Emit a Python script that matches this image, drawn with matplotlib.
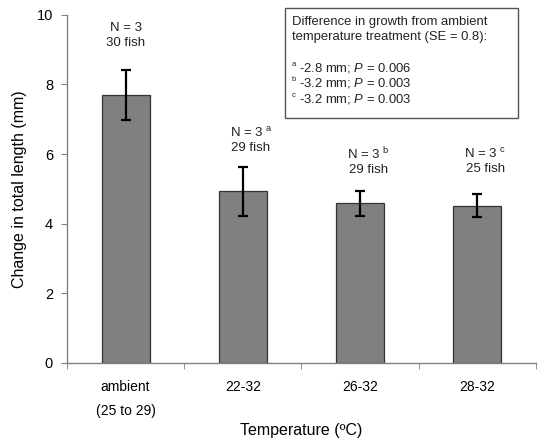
import matplotlib
matplotlib.use("Agg")
import matplotlib.pyplot as plt
from matplotlib.patches import Rectangle

plt.rcParams['font.family'] = ['Liberation Sans', 'DejaVu Sans']
plt.rcParams['mathtext.fontset'] = 'custom'
plt.rcParams['mathtext.rm'] = 'Liberation Sans'
plt.rcParams['mathtext.it'] = 'Liberation Sans:italic'

categories = ["ambient\n(25 to 29)", "22-32", "26-32", "28-32"]
means = [7.70, 4.93, 4.58, 4.52]
errors = [0.72, 0.71, 0.36, 0.32]
n_labels = ["N = 3", "N = 3 $^{\\mathregular{a}}$", "N = 3 $^{\\mathregular{b}}$", "N = 3 $^{\\mathregular{c}}$"]
fish_labels = ["30 fish", "29 fish", "29 fish", "25 fish"]
label_y = [9.4, 6.4, 5.8, 5.8]

box_lines = ["Difference in growth from ambient",
             "temperature treatment (SE = 0.8):"]
box_items = [("a", "-2.8 mm; $\\it{P}$ = 0.006"),
             ("b", "-3.2 mm; $\\it{P}$ = 0.003"),
             ("c", "-3.2 mm; $\\it{P}$ = 0.003")]

fig = plt.figure(figsize=(5.39, 4.45), dpi=100)
ax = fig.add_axes([0.1243, 0.1843, 0.870, 0.7827])

x = list(range(len(categories)))
ax.bar(x, means, width=0.41, color='#808080', edgecolor='#333333', linewidth=0.9, zorder=2)
ax.errorbar(x, means, yerr=errors, fmt='none', ecolor='black', elinewidth=1.6,
            capsize=3.5, capthick=1.6, zorder=3)

for xi, nl, fl, ly in zip(x, n_labels, fish_labels, label_y):
    ax.text(xi + (0.07 if '$' in nl else 0), ly, nl + "\n" + fl, ha='center', va='center',
            fontsize=9.5, color='#222222', linespacing=1.25, multialignment='center')

ax.set_xlim(-0.5, 3.5)
ax.set_ylim(0, 10)
ax.set_yticks([0, 2, 4, 6, 8, 10])
ax.set_xticks(x)
ax.set_xticklabels(categories, fontsize=10, linespacing=1.9, va='top')
ax.set_xticks([-0.5, 0.5, 1.5, 2.5, 3.5], minor=True)
ax.tick_params(axis='x', which='major', length=0, pad=12)
ax.tick_params(axis='x', which='minor', length=4, color='#808080', direction='out')
ax.tick_params(axis='y', length=4, color='#808080', direction='out', labelsize=10.5, pad=6)
for s in ['top', 'right']:
    ax.spines[s].set_visible(False)
for s in ['left', 'bottom']:
    ax.spines[s].set_color('#808080')
    ax.spines[s].set_linewidth(1.0)

ax.set_ylabel("Change in total length (mm)", fontsize=11.5, labelpad=7)
ax.set_xlabel("Temperature (ºC)", fontsize=11.5, labelpad=4)

# annotation box
x0, x1 = 285 / 539, 518 / 539
y0, y1 = 1 - 118 / 445, 1 - 8 / 445
fig.patches.append(Rectangle((x0, y0), x1 - x0, y1 - y0, transform=fig.transFigure,
                             facecolor='white', edgecolor='#555555', linewidth=1.0))
tx = 292 / 539
for i, line in enumerate(box_lines):
    fig.text(tx, 1 - (22 + 15 * i) / 445, line, ha='left', va='center', fontsize=9.4, color='#222222')
for i, (sup, line) in enumerate(box_items):
    yy = 1 - (68 + 15.5 * i) / 445
    fig.text(tx, yy + 0.008, sup, ha='left', va='center', fontsize=5.5, color='#222222')
    fig.text(tx + 7 / 539, yy, line, ha='left', va='center', fontsize=9.4, color='#222222')

fig.savefig("out.png", dpi=100)
